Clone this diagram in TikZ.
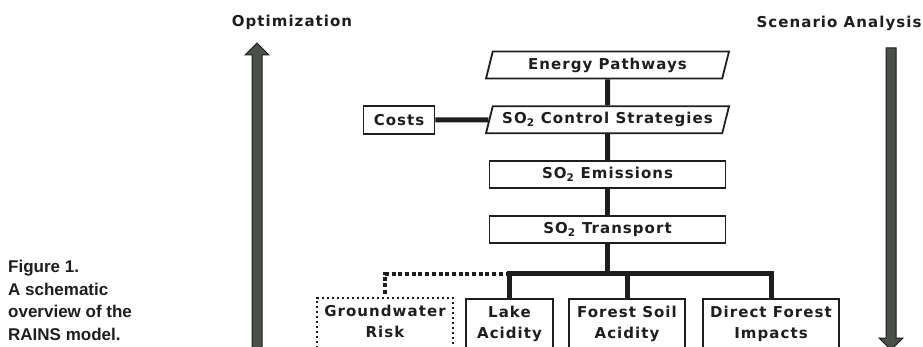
\documentclass[tikz,border=0pt]{standalone}
\usepackage{fontspec}
\usepackage{tikz}
\usetikzlibrary{shapes,arrows,positioning,calc}
\newfontfamily\modelfont[LetterSpace=7]{DejaVu Sans}
\newfontfamily\captionfont{Liberation Sans}
\definecolor{ink}{HTML}{1E1E1E}
\definecolor{arrowgray}{HTML}{4B4F4A}

\begin{document}
\begin{tikzpicture}[x=1pt, y=1pt, node distance=26pt, text=ink,
	font=\modelfont\bfseries\fontsize{15}{21}\selectfont,
	box/.style={rectangle, draw=ink, line width=1.8pt, minimum width=236pt, minimum height=27pt, inner sep=2pt},
	slantbox/.style={trapezium, trapezium left angle=70, trapezium right angle=110, trapezium stretches body, draw=ink, line width=1.8pt, minimum width=243pt, minimum height=27pt, inner sep=2pt},
	impact/.style={box, anchor=north, align=center, minimum height=51pt, inner sep=7pt, text height=32pt, text depth=3pt},
	riskbox/.style={impact, dash pattern=on 2pt off 3pt, line width=2pt},
	link/.style={draw=ink, line width=5pt},
	dotlink/.style={draw=ink, line width=4pt, dash pattern=on 4pt off 2.7pt},
	bigarrow/.style={fill=arrowgray, draw=ink, line width=1pt}]
	\useasboundingbox (0,0) rectangle (923,346);
	\clip (0,0) rectangle (923,346);

	% direction of use
	\node [anchor=base] (opt) at (292,319) {Optimization};
	\node [anchor=base] (scen) at (839,318) {Scenario Analysis};
	\draw [bigarrow] (252,-10) -- (252,291) -- (245,291) -- (257,303) -- (269,291) -- (262,291) -- (262,-10) -- cycle;
	\draw [bigarrow] (886,298) -- (896,298) -- (896,8) -- (903,8) -- (891,-4) -- (879,8) -- (886,8) -- cycle;

	% model chain
	\node [slantbox] (energy) at (607.5,281) {Energy Pathways};
	\node [slantbox, below=of energy] (control) {SO\textsubscript{2} Control Strategies};
	\node [box, minimum width=71pt, minimum height=28pt, left=53pt of control] (costs) {Costs};
	\node [box, below=of control] (emissions) {SO\textsubscript{2} Emissions};
	\node [box, below=of emissions] (transport) {SO\textsubscript{2} Transport};
	\coordinate [below=30pt of transport] (bus);

	% impacts
	\node [riskbox, minimum width=133pt] (risk) at (385,49.5) {Groundwater\\Risk};
	\node [impact, minimum width=87pt] (lake) at (509.5,48) {Lake\\Acidity};
	\node [impact, minimum width=116pt] (soil) at (627,48) {Forest Soil\\Acidity};
	\node [impact, minimum width=136pt] (forest) at (771,48) {Direct Forest\\Impacts};

	\path [link] (energy) -- (control);
	\path [link] (costs) -- (control);
	\path [link] (control) -- (emissions);
	\path [link] (emissions) -- (transport);
	\path [link] (transport) -- (bus);
	\path [link] (bus) -| (lake);
	\path [link] (bus) -| (soil);
	\path [link] (bus) -| (forest);
	\path [dotlink] (lake.north |- bus) -| (risk);

	\node [anchor=north west, align=left, inner sep=0pt, font=\captionfont\bfseries\fontsize{17}{22.5}\selectfont] (caption) at (8,86) {Figure 1.\\A schematic\\overview of the\\RAINS model.};
\end{tikzpicture}
\end{document}
